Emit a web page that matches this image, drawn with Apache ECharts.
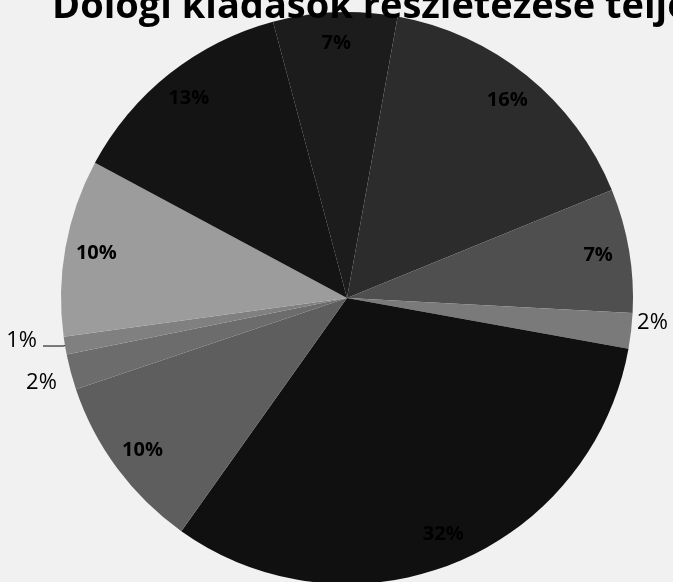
<!DOCTYPE html>
<html>
<head>
<meta charset="utf-8">
<script src="https://cdn.jsdelivr.net/npm/echarts@6/dist/echarts.min.js"></script>
<style>
  html, body { margin: 0; padding: 0; background: #f1f1f1; }
  #chart { width: 673px; height: 582px; }
</style>
</head>
<body>
<div id="chart"></div>
<script>
// Chart data: shares of the operating-expense items, clockwise
const titleText = 'Dologi kiadások részletezése teljesítés szerint';
const categories = [
  'Üzemeltetési anyagok', 'Szakmai anyagok', 'Kommunikációs szolgáltatások',
  'Kiküldetés', 'Közüzemi díjak', 'Karbantartás', 'Reklám',
  'Egyéb befizetések', 'Szolgáltatási kiadások', 'Áfa'
];
const shares = [7, 16, 7, 2, 32, 10, 2, 1, 10, 13];

// Styling per slice
const sliceColors = ['#1c1c1c', '#2c2c2c', '#4f4f4f', '#7a7a7a', '#101010',
                     '#5e5e5e', '#6c6c6c', '#808080', '#9c9c9c', '#141414'];
const labelOutside = [false, false, false, true, false, false, true, true, false, false];
// small shifts of the outside labels, by data index
const outsideShift = { 3: { dx: 0, dy: -8 }, 6: { dx: -8, dy: 10 }, 7: { dx: -4, dy: -5 } };

const center = [347, 298];
const R = 286;
const startAngle = 105;

const pieData = categories.map((name, i) => ({
  name,
  value: shares[i],
  itemStyle: { color: sliceColors[i] },
  label: { show: labelOutside[i] },
  labelLine: i === 7 ? { show: true } : { show: false, length: 2, length2: 2 }
}));

const labelRingData = categories.map((name, i) => ({
  name,
  value: shares[i],
  label: { show: !labelOutside[i] }
}));

const chart = echarts.init(document.getElementById('chart'), null, { renderer: 'canvas' });
chart.setOption({
  backgroundColor: '#f1f1f1',
  animation: false,
  title: {
    text: titleText,
    left: 52,
    top: -12,
    padding: 0,
    textStyle: {
      fontFamily: 'Open Sans',
      fontWeight: 'bold',
      fontSize: 38,
      color: '#000'
    }
  },
  series: [
    {
      type: 'pie',
      center: center,
      radius: R,
      startAngle: startAngle,
      clockwise: true,
      avoidLabelOverlap: false,
      silent: true,
      itemStyle: { borderWidth: 0 },
      label: {
        position: 'outside',
        formatter: '{d}%',
        fontFamily: 'Open Sans',
        fontSize: 22,
        color: '#000',
        distanceToLabelLine: 2
      },
      labelLine: {
        length: 2,
        length2: 20,
        smooth: false,
        lineStyle: { color: '#000', width: 1 }
      },
      labelLayout: function (params) {
        const s = outsideShift[params.dataIndex];
        return s ? { dx: s.dx, dy: s.dy } : {};
      },
      data: pieData
    },
    {
      type: 'pie',
      center: center,
      radius: [R * 0.76, R],
      startAngle: startAngle,
      clockwise: true,
      avoidLabelOverlap: false,
      silent: true,
      itemStyle: { color: 'rgba(0,0,0,0)' },
      label: {
        position: 'inside',
        formatter: '{d}%',
        fontFamily: 'Open Sans',
        fontWeight: 'bold',
        fontSize: 20,
        color: '#000'
      },
      labelLine: { show: false },
      data: labelRingData
    }
  ]
});
</script>
</body>
</html>
